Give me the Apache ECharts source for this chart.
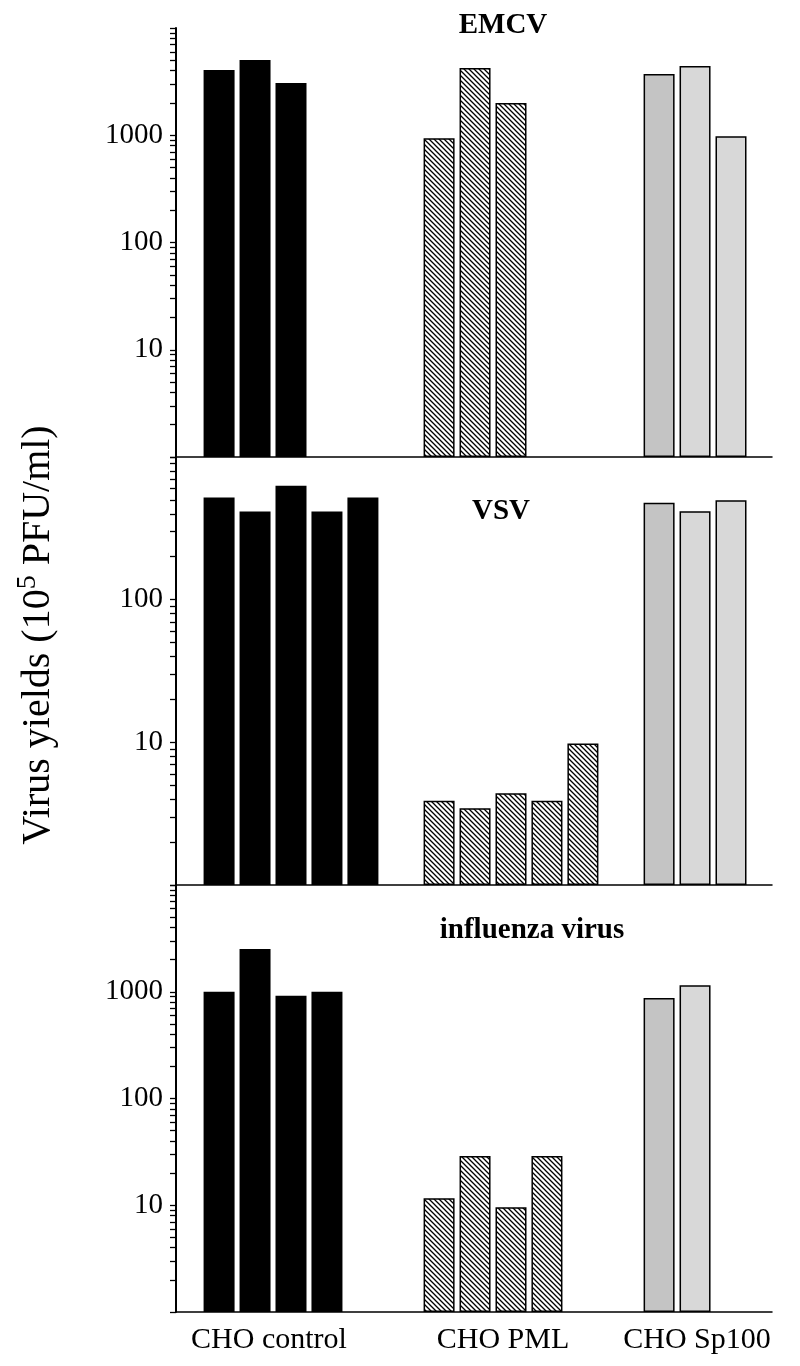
<!DOCTYPE html>
<html><head><meta charset="utf-8">
<script src="https://cdn.jsdelivr.net/npm/echarts@6/dist/echarts.min.js"></script>
<style>html,body{margin:0;padding:0;background:#fff}#c{width:800px;height:1366px}</style>
</head><body><div id="c"></div>
<script>
// ---------- data ----------
const groups = ['CHO control', 'CHO PML', 'CHO Sp100'];
const panelTitles = ['EMCV', 'VSV', 'influenza virus'];
const yTitle = ['Virus yields (10', '5', ' PFU/ml)'];

const emcvControl = [4060, 5030, 3070];
const emcvPML     = [940, 4240, 2000];
const emcvSp100   = [3720, 4420, 980];

const vsvControl  = [520, 415, 630, 415, 520];
const vsvPML      = [3.9, 3.45, 4.4, 3.9, 9.8];
const vsvSp100    = [478, 416, 497];

const fluControl  = [1000, 2520, 915, 1000];
const fluPML      = [11.6, 29, 9.6, 29];
const fluSp100    = [875, 1150];

const emcvTickLabels = [10, 100, 1000];
const vsvTickLabels  = [10, 100];
const fluTickLabels  = [10, 100, 1000];
const axisMin = [1, 1, 1];
const axisMax = [10000, 1000, 10000];
const replicateSlots = 5;

// ---------- layout (styles/positions) ----------
const layout = [
  {top: 28,  bottom: 457,  tx: 503, ty: 26},
  {top: 457, bottom: 885,  tx: 501, ty: 512},
  {top: 885, bottom: 1312, tx: 532, ty: 931}
];
const panelData = [
  {series: [emcvControl, emcvPML, emcvSp100], ticks: emcvTickLabels},
  {series: [vsvControl, vsvPML, vsvSp100], ticks: vsvTickLabels},
  {series: [fluControl, fluPML, fluSp100], ticks: fluTickLabels}
];

const FONT = '"Liberation Serif", "Times New Roman", serif';

function hatchCanvas() {
  const s = 5;
  const c = document.createElement('canvas'); c.width = s; c.height = s;
  const g = c.getContext('2d');
  g.fillStyle = '#fff'; g.fillRect(0, 0, s, s);
  g.strokeStyle = '#000'; g.lineWidth = 1.3;
  g.beginPath();
  g.moveTo(-1, -1); g.lineTo(s + 1, s + 1);
  g.moveTo(-1, s - 1); g.lineTo(1, s + 1);
  g.moveTo(s - 1, -1); g.lineTo(s + 1, 1);
  g.stroke();
  return c;
}
const hatch = {image: hatchCanvas(), repeat: 'repeat'};

function styleFor(gi, r) {
  if (gi === 0) return {color: '#000', borderWidth: 0};
  if (gi === 1) return {color: hatch, borderColor: '#000', borderWidth: 1.5};
  return {color: r === 0 ? '#c4c4c4' : '#d8d8d8', borderColor: '#000', borderWidth: 1.5};
}

const grids = [], xAxes = [], yAxes = [], series = [], graphics = [];

panelData.forEach((p, pi) => {
  const L = layout[pi];
  const height = L.bottom - L.top;
  const maxExp = Math.round(Math.log10(axisMax[pi]));
  const tickVals = [];
  for (let d = 0; d < maxExp; d++) for (let k = 1; k <= 9; k++) tickVals.push(Math.log10(k * Math.pow(10, d)));
  tickVals.push(maxExp);

  // Grid A: frame axes
  const ga = grids.length;
  grids.push({left: 176, width: 596, top: L.top, height: height, outerBoundsMode: 'none', containLabel: false});
  xAxes.push({gridIndex: ga, type: 'value', min: 0, max: 1,
    axisLine: {show: true, lineStyle: {color: '#000', width: 1.5}},
    axisTick: {show: false}, axisLabel: {show: false}, splitLine: {show: false}});
  yAxes.push({gridIndex: ga, type: 'value', min: 0, max: maxExp,
    axisLine: {show: true, lineStyle: {color: '#000', width: 2}},
    axisTick: {show: true, length: 6, lineStyle: {color: '#000', width: 1.3}, customValues: tickVals},
    axisLabel: {show: true, customValues: p.ticks.map(v => Math.log10(v)),
      formatter: v => String(Math.round(Math.pow(10, v))),
      fontFamily: FONT, fontSize: 29, color: '#000', margin: 13},
    splitLine: {show: false}});
  series.push({type: 'line', xAxisIndex: ga, yAxisIndex: ga, data: [], silent: true});

  // Grid B: bars
  const gb = grids.length;
  grids.push({left: 181, width: 660, top: L.top, height: height, outerBoundsMode: 'none', containLabel: false});
  xAxes.push({gridIndex: gb, type: 'category', data: groups,
    show: pi === 2,
    axisLine: {show: false}, axisTick: {show: false},
    axisLabel: {show: pi === 2, interval: 0, hideOverlap: false, margin: 13, color: '#000', fontFamily: FONT, fontSize: 30,
      formatter: (v, i) => '{c' + i + '|' + v + '}',
      rich: {
        c0: {fontFamily: FONT, fontSize: 30, color: '#000', padding: [0, 44, 0, 0]},
        c1: {fontFamily: FONT, fontSize: 30, color: '#000', padding: [0, 16, 0, 0]},
        c2: {fontFamily: FONT, fontSize: 30, color: '#000', padding: [0, 68, 0, 0]}
      }}});
  yAxes.push({gridIndex: gb, type: 'log', logBase: 10, min: axisMin[pi], max: axisMax[pi], show: false,
    splitLine: {show: false}});
  for (let r = 0; r < replicateSlots; r++) {
    series.push({
      type: 'bar', xAxisIndex: gb, yAxisIndex: gb,
      barWidth: 31, barGap: '16%',
      silent: true,
      data: p.series.map((arr, gi) => arr[r] == null ? '-' : {value: arr[r], itemStyle: styleFor(gi, r)})
    });
  }

  graphics.push({type: 'text', x: L.tx, y: L.ty, silent: true,
    style: {text: panelTitles[pi], font: 'bold 29px ' + FONT, fill: '#000',
      align: 'center', verticalAlign: 'middle', textAlign: 'center', textVerticalAlign: 'middle'}});
});

graphics.push({type: 'text', x: 38, y: 635, rotation: Math.PI / 2, silent: true,
  style: {
    text: '{a|' + yTitle[0] + '}{s|' + yTitle[1] + '}{a|' + yTitle[2] + '}',
    fill: '#000', align: 'center', verticalAlign: 'middle', textAlign: 'center', textVerticalAlign: 'middle',
    rich: {
      a: {fontFamily: FONT, fontSize: 40, lineHeight: 48, fill: '#000', color: '#000'},
      s: {fontFamily: FONT, fontSize: 28, lineHeight: 30, verticalAlign: 'top', fill: '#000', color: '#000'}
    }
  }});

const chart = echarts.init(document.getElementById('c'), null, {renderer: 'canvas'});
chart.setOption({
  animation: false,
  backgroundColor: '#fff',
  grid: grids, xAxis: xAxes, yAxis: yAxes, series: series,
  graphic: graphics
});
</script></body></html>
